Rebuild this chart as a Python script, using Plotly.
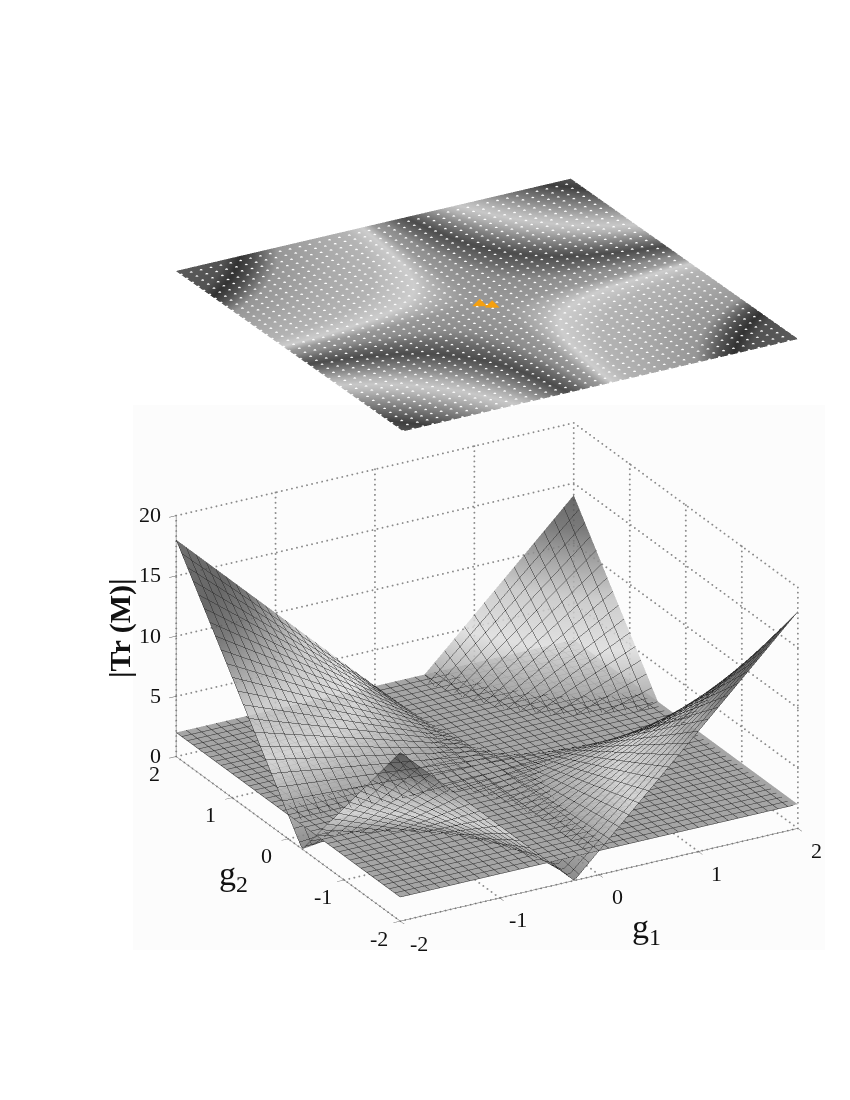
import numpy as np
import plotly.graph_objects as go

g_ticks = [-2, -1, 0, 1, 2]
z_ticks = [0, 5, 10, 15, 20]
g_nodes = [-2, -1.75, -1.5, -1.25, -1, -0.75, -0.5, -0.25, 0, 0.25, 0.5, 0.75, 1, 1.25, 1.5, 1.75, 2]

# signed trace read from the lower surface; rows are g2, columns are g1
trace_table = [
    [-14, -12, -10, -8, -6, -4, -2, 0, 2, 4, 6, 8, 10, 12, 14, 16, 18],
    [-12, -10.25, -8.5, -6.75, -5, -3.25, -1.5, 0.25, 2, 3.75, 5.5, 7.25, 9, 10.75, 12.5, 14.25, 16],
    [-10, -8.5, -7, -5.5, -4, -2.5, -1, 0.5, 2, 3.5, 5, 6.5, 8, 9.5, 11, 12.5, 14],
    [-8, -6.75, -5.5, -4.25, -3, -1.75, -0.5, 0.75, 2, 3.25, 4.5, 5.75, 7, 8.25, 9.5, 10.75, 12],
    [-6, -5, -4, -3, -2, -1, 0, 1, 2, 3, 4, 5, 6, 7, 8, 9, 10],
    [-4, -3.25, -2.5, -1.75, -1, -0.25, 0.5, 1.25, 2, 2.75, 3.5, 4.25, 5, 5.75, 6.5, 7.25, 8],
    [-2, -1.5, -1, -0.5, 0, 0.5, 1, 1.5, 2, 2.5, 3, 3.5, 4, 4.5, 5, 5.5, 6],
    [0, 0.25, 0.5, 0.75, 1, 1.25, 1.5, 1.75, 2, 2.25, 2.5, 2.75, 3, 3.25, 3.5, 3.75, 4],
    [2, 2, 2, 2, 2, 2, 2, 2, 2, 2, 2, 2, 2, 2, 2, 2, 2],
    [4, 3.75, 3.5, 3.25, 3, 2.75, 2.5, 2.25, 2, 1.75, 1.5, 1.25, 1, 0.75, 0.5, 0.25, 0],
    [6, 5.5, 5, 4.5, 4, 3.5, 3, 2.5, 2, 1.5, 1, 0.5, 0, -0.5, -1, -1.5, -2],
    [8, 7.25, 6.5, 5.75, 5, 4.25, 3.5, 2.75, 2, 1.25, 0.5, -0.25, -1, -1.75, -2.5, -3.25, -4],
    [10, 9, 8, 7, 6, 5, 4, 3, 2, 1, 0, -1, -2, -3, -4, -5, -6],
    [12, 10.75, 9.5, 8.25, 7, 5.75, 4.5, 3.25, 2, 0.75, -0.5, -1.75, -3, -4.25, -5.5, -6.75, -8],
    [14, 12.5, 11, 9.5, 8, 6.5, 5, 3.5, 2, 0.5, -1, -2.5, -4, -5.5, -7, -8.5, -10],
    [16, 14.25, 12.5, 10.75, 9, 7.25, 5.5, 3.75, 2, 0.25, -1.5, -3.25, -5, -6.75, -8.5, -10.25, -12],
    [18, 16, 14, 12, 10, 8, 6, 4, 2, 0, -2, -4, -6, -8, -10, -12, -14],
]
plane_level = 2

# gray seen in the top map for given trace values
shade_trace = [-14, -12, -10.96, -8.24, -5.84, -4.8, -3.76, -2, -0.56, 0.56, 1.36, 2, 2.28, 2.96, 4.28, 6.68, 9.8, 11.6, 12.8, 14.12, 18]
shade_gray = [85, 62, 84, 136, 185, 200, 178, 122, 76, 108, 140, 152, 168, 205, 180, 168, 150, 82, 50, 82, 92]

# gray seen on the lower surface for given heights
height_stops = [0, 2, 5, 8, 10, 12, 14, 18]
height_gray = [120, 160, 220, 195, 150, 100, 78, 84]

dot_nodes = [-2, -1.9, -1.8, -1.7, -1.6, -1.5, -1.4, -1.3, -1.2, -1.1, -1, -0.9, -0.8, -0.7, -0.6, -0.5, -0.4, -0.3, -0.2, -0.1,
             0, 0.1, 0.2, 0.3, 0.4, 0.5, 0.6, 0.7, 0.8, 0.9, 1, 1.1, 1.2, 1.3, 1.4, 1.5, 1.6, 1.7, 1.8, 1.9, 2]
marked_g1 = [-0.07, 0.01]
marked_g2 = [0.01, -0.07]

SERIF = "Liberation Serif"


def gray(v):
    return f"rgb({v},{v},{v})"


trace_arr = np.array(trace_table, dtype=float)
t0, t1 = shade_trace[0], shade_trace[-1]
top_scale = [[(t - t0) / (t1 - t0), gray(g)] for t, g in zip(shade_trace, shade_gray)]
z_max = height_stops[-1]
low_scale = [[h / z_max, gray(g)] for h, g in zip(height_stops, height_gray)]
flat_light = dict(ambient=1, diffuse=0, specular=0, roughness=1, fresnel=0)
mesh = dict(show=True, start=-2, end=2, size=0.1, color="#2a2a2a", width=1.5)
mesh_contours = dict(x=mesh, y=mesh, z=dict(show=False))

fig = go.Figure()

# top shaded map
fig.add_trace(go.Surface(
    x=g_nodes, y=g_nodes, z=np.zeros_like(trace_arr), surfacecolor=trace_arr,
    colorscale=top_scale, cmin=t0, cmax=t1, showscale=False, lighting=flat_light,
    hoverinfo="skip", scene="scene2"))
dx, dy = np.meshgrid(dot_nodes, dot_nodes)
fig.add_trace(go.Scatter3d(
    x=dx.ravel(), y=dy.ravel(), z=np.zeros(dx.size), mode="markers",
    marker=dict(size=1.7, color="white", line=dict(width=0)), hoverinfo="skip", scene="scene2"))
fig.add_trace(go.Scatter3d(
    x=marked_g1, y=marked_g2, z=[0, 0], mode="markers",
    marker=dict(size=5, color="#f5a010", symbol="diamond", line=dict(width=0)), hoverinfo="skip", scene="scene2"))

# dotted grid on the back walls and floor of the lower box, drawn as rows of small dots
gx, gy, gz = [], [], []


def seg(a, b, n):
    gx.extend(np.linspace(a[0], b[0], n))
    gy.extend(np.linspace(a[1], b[1], n))
    gz.extend(np.linspace(a[2], b[2], n))


low, high, top = g_ticks[0], g_ticks[-1], z_ticks[-1]
for t in g_ticks:
    seg((t, high, 0), (t, high, top), 48)
    seg((high, t, 0), (high, t, top), 48)
    seg((t, low, 0), (t, high, 0), 56)
    seg((low, t, 0), (high, t, 0), 80)
for h in z_ticks:
    seg((low, high, h), (high, high, h), 80)
    seg((high, high, h), (high, low, h), 56)
fig.add_trace(go.Scatter3d(
    x=gx, y=gy, z=gz, mode="markers", marker=dict(color="#8a8a8a", size=1.1, line=dict(width=0)),
    hoverinfo="skip", scene="scene"))

# lower surfaces: opaque level plane, translucent sheet painted from the far corner forwards
fig.add_trace(go.Surface(
    x=g_nodes, y=g_nodes, z=np.full_like(trace_arr, plane_level), surfacecolor=np.full_like(trace_arr, plane_level),
    colorscale=[[0, gray(165)], [1, gray(165)]], cmin=0, cmax=4, showscale=False, lighting=flat_light,
    contours=mesh_contours, hoverinfo="skip", scene="scene"))
fig.add_trace(go.Surface(
    x=g_nodes[::-1], y=g_nodes[::-1], z=np.abs(trace_arr)[::-1, ::-1],
    colorscale=low_scale, cmin=0, cmax=z_max, showscale=False, lighting=flat_light,
    contours=mesh_contours, opacity=0.85, hoverinfo="skip", scene="scene"))


def axis(vals, rng):
    return dict(
        range=rng, tickmode="array", tickvals=vals, ticktext=[str(v) for v in vals],
        tickfont=dict(family=SERIF, size=8, color="rgba(0,0,0,0)"),
        showgrid=False, zeroline=False, showline=True, linecolor="#555555", linewidth=1,
        ticks="outside", ticklen=8, tickcolor="#555555", title=dict(text=""),
        showbackground=False, showspikes=False)


hidden = dict(visible=False, showbackground=False, showgrid=False, zeroline=False, showspikes=False)


def dom_x(cx, w):
    return [(cx - w / 2) / 850, (cx + w / 2) / 850]


def dom_y(cy, h):
    return [1 - (cy + h / 2) / 1100, 1 - (cy - h / 2) / 1100]


def eye(vec, dist):
    return dict(x=vec[0] * dist, y=vec[1] * dist, z=vec[2] * dist)


tick_font = dict(family=SERIF, size=22, color="#111111")
tick_labels = (
    [dict(x=t, y=low, z=0, text=str(t), showarrow=False, xshift=19, yshift=-22, font=tick_font) for t in g_ticks]
    + [dict(x=low, y=t, z=0, text=str(t), showarrow=False, xshift=-21, yshift=-17, font=tick_font) for t in g_ticks]
    + [dict(x=low, y=high, z=h, text=str(h), showarrow=False, xanchor="right", xshift=-13, yshift=1, font=tick_font)
       for h in z_ticks]
)

fig.update_layout(
    width=850, height=1100, autosize=False, margin=dict(l=0, r=0, t=0, b=0),
    paper_bgcolor="white", plot_bgcolor="white", showlegend=False,
    scene=dict(
        domain=dict(x=dom_x(486.5, 700), y=dom_y(672, 560)),
        xaxis=axis(g_ticks, [-2, 2]), yaxis=axis(g_ticks, [-2, 2]), zaxis=axis(z_ticks, [0, 20]),
        aspectmode="manual", aspectratio=dict(x=1.63, y=1.63, z=0.945),
        camera=dict(projection=dict(type="orthographic"), eye=eye((-0.447, -0.793, 0.414), 4),
                    up=dict(x=0, y=0, z=1), center=dict(x=0, y=0, z=0)),
        annotations=tick_labels,
        bgcolor="rgba(0,0,0,0)"),
    scene2=dict(
        domain=dict(x=dom_x(486.5, 700), y=dom_y(304.5, 400)),
        xaxis=dict(hidden, range=[-2, 2]), yaxis=dict(hidden, range=[-2, 2]), zaxis=dict(hidden, range=[-1, 1]),
        aspectmode="manual", aspectratio=dict(x=2.28, y=2.28, z=0.05),
        camera=dict(projection=dict(type="orthographic"), eye=eye((-0.456, -0.792, 0.406), 4),
                    up=dict(x=0, y=0, z=1), center=dict(x=0, y=0, z=0)),
        bgcolor="rgba(0,0,0,0)"),
    shapes=[dict(type="rect", xref="paper", yref="paper", x0=133 / 850, x1=825 / 850,
                 y0=1 - 950 / 1100, y1=1 - 405 / 1100, fillcolor="#fcfcfc", line=dict(width=0), layer="below")],
    annotations=[
        dict(text="<b>|Tr (M)|</b>", x=120 / 850, y=1 - 628 / 1100, xref="paper", yref="paper", showarrow=False,
             xanchor="center", yanchor="middle", textangle=-90, font=dict(family=SERIF, size=30, color="#111111")),
        dict(text="g<sub>2</sub>", x=234 / 850, y=1 - 876 / 1100, xref="paper", yref="paper", showarrow=False,
             xanchor="center", yanchor="middle", font=dict(family=SERIF, size=34, color="#111111")),
        dict(text="g<sub>1</sub>", x=646 / 850, y=1 - 929 / 1100, xref="paper", yref="paper", showarrow=False,
             xanchor="center", yanchor="middle", font=dict(family=SERIF, size=34, color="#111111")),
    ],
)

fig.write_html("out.html", config={"displayModeBar": False}, post_script="document.body.style.margin='0';")
